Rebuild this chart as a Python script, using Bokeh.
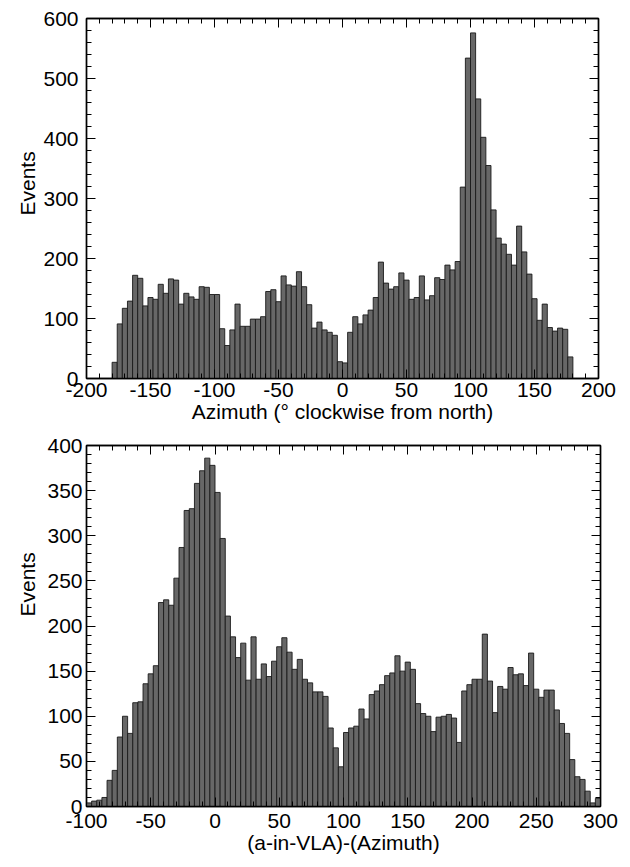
import numpy as np
from bokeh.plotting import figure
from bokeh.layouts import column
from bokeh.models import (LinearAxis, SingleIntervalTicker, Range1d, Title,
                          CustomJSTickFormatter, CustomLabelingPolicy)
from bokeh.embed import file_html
from bokeh.resources import INLINE

# ---- data: top histogram (azimuth, 4-degree bins from -180 to 180) ----
top_bin_start = -180
top_bin_width = 4
top_counts = [27, 91, 117, 129, 172, 167, 121, 135, 132, 157, 142, 166, 164, 124, 142, 136,
              132, 153, 152, 140, 140, 83, 55, 81, 124, 87, 87, 99, 99, 103, 145, 148,
              128, 171, 156, 154, 178, 153, 123, 84, 94, 81, 77, 72, 28, 26, 77, 103,
              91, 106, 114, 135, 194, 159, 149, 153, 176, 164, 132, 135, 171, 131, 138, 168,
              165, 189, 181, 195, 319, 534, 576, 466, 402, 355, 281, 234, 224, 207, 189, 254,
              211, 174, 133, 97, 124, 85, 79, 84, 82, 36]

# ---- data: bottom histogram ((a-in-VLA)-(Azimuth), 4-unit bins from -100 to 300) ----
bot_bin_start = -100
bot_bin_width = 4
bot_counts = [4, 6, 7, 10, 29, 40, 77, 100, 81, 115, 116, 136, 147, 156, 226, 229,
              223, 253, 287, 328, 330, 358, 372, 386, 378, 348, 297, 211, 188, 165, 181, 140,
              188, 141, 158, 144, 161, 177, 187, 171, 152, 163, 141, 137, 127, 127, 122, 87,
              65, 44, 82, 87, 89, 108, 97, 124, 128, 135, 145, 148, 167, 150, 160, 152,
              114, 103, 100, 83, 99, 100, 102, 98, 71, 128, 135, 141, 141, 191, 139, 104,
              133, 130, 154, 146, 147, 134, 170, 130, 121, 129, 129, 107, 92, 81, 52, 33,
              30, 17, 4, 9]

top_xlabel = "Azimuth (\u00b0 clockwise from north)"
bot_xlabel = "(a-in-VLA)-(Azimuth)"
ylabel = "Events"

FONT = "Liberation Sans"
FS = "21px"
FILL = "#676767"
EDGE = "#1a1a1a"

HIDE_LABELS = "for (const i of indices) { indices.unset(i) }\nreturn indices"
PLAIN_FMT = "return tick.toString()"


def style_axis(ax, labels=True):
    ax.major_tick_in = 9
    ax.major_tick_out = 0
    ax.minor_tick_in = 5
    ax.minor_tick_out = 0
    ax.axis_line_color = "black"
    ax.axis_line_width = 1.3
    ax.major_tick_line_color = "black"
    ax.minor_tick_line_color = "black"
    ax.major_label_text_font = FONT
    ax.major_label_text_color = "black"
    ax.major_label_text_font_size = FS
    ax.axis_label_text_font = FONT
    ax.axis_label_text_font_style = "normal"
    ax.axis_label_text_font_size = FS
    ax.axis_label_text_color = "black"
    if labels:
        ax.formatter = CustomJSTickFormatter(code=PLAIN_FMT)
    else:
        ax.major_label_policy = CustomLabelingPolicy(code=HIDE_LABELS)
        ax.major_label_standoff = 0


def make_hist(counts, start, width, xr, yr, xint, yint, xlabel,
              left_border, top_border, frame_w, frame_h, ystand, xstand,
              ytitle_standoff, ytitle_offset):
    n = len(counts)
    edges = start + width * np.arange(n + 1)
    p = figure(frame_width=frame_w, frame_height=frame_h,
               x_range=Range1d(*xr), y_range=Range1d(*yr),
               output_backend="svg", toolbar_location=None,
               min_border_left=left_border, min_border_top=top_border,
               min_border_right=14, min_border_bottom=10,
               background_fill_color="white", border_fill_color="white")
    p.grid.visible = False
    p.outline_line_color = "black"
    p.outline_line_width = 1.5
    p.quad(left=edges[:-1], right=edges[1:], bottom=0, top=counts,
           fill_color=FILL, line_color=EDGE, line_width=0.9)

    p.xaxis.ticker = SingleIntervalTicker(interval=xint, num_minor_ticks=5)
    p.yaxis.ticker = SingleIntervalTicker(interval=yint, num_minor_ticks=5)
    p.xaxis.axis_label = xlabel
    for ax in p.xaxis:
        style_axis(ax)
        ax.major_label_standoff = xstand
        ax.axis_label_standoff = 0
    for ax in p.yaxis:
        style_axis(ax)
        ax.major_label_standoff = ystand

    # y-axis title, placed (as in the original) above the axis middle
    p.add_layout(Title(text=ylabel, align="left", offset=ytitle_offset,
                       standoff=ytitle_standoff, text_font=FONT, text_font_size=FS,
                       text_font_style="normal", text_color="black"), "left")

    ax_top = LinearAxis(ticker=SingleIntervalTicker(interval=xint, num_minor_ticks=5))
    style_axis(ax_top, labels=False)
    p.add_layout(ax_top, "above")
    ax_right = LinearAxis(ticker=SingleIntervalTicker(interval=yint, num_minor_ticks=5))
    style_axis(ax_right, labels=False)
    p.add_layout(ax_right, "right")
    return p


p1 = make_hist(top_counts, top_bin_start, top_bin_width, (-200, 200), (0, 600), 50, 100,
               top_xlabel, 86, 18, 512, 360, 8, 4, 4, 163)
p2 = make_hist(bot_counts, bot_bin_start, bot_bin_width, (-100, 300), (0, 400), 50, 50,
               bot_xlabel, 82, 20, 514, 361, 4, 7, 12, 190)

layout = column(p1, p2, spacing=0)
open("out.html", "w").write(file_html(layout, INLINE))
